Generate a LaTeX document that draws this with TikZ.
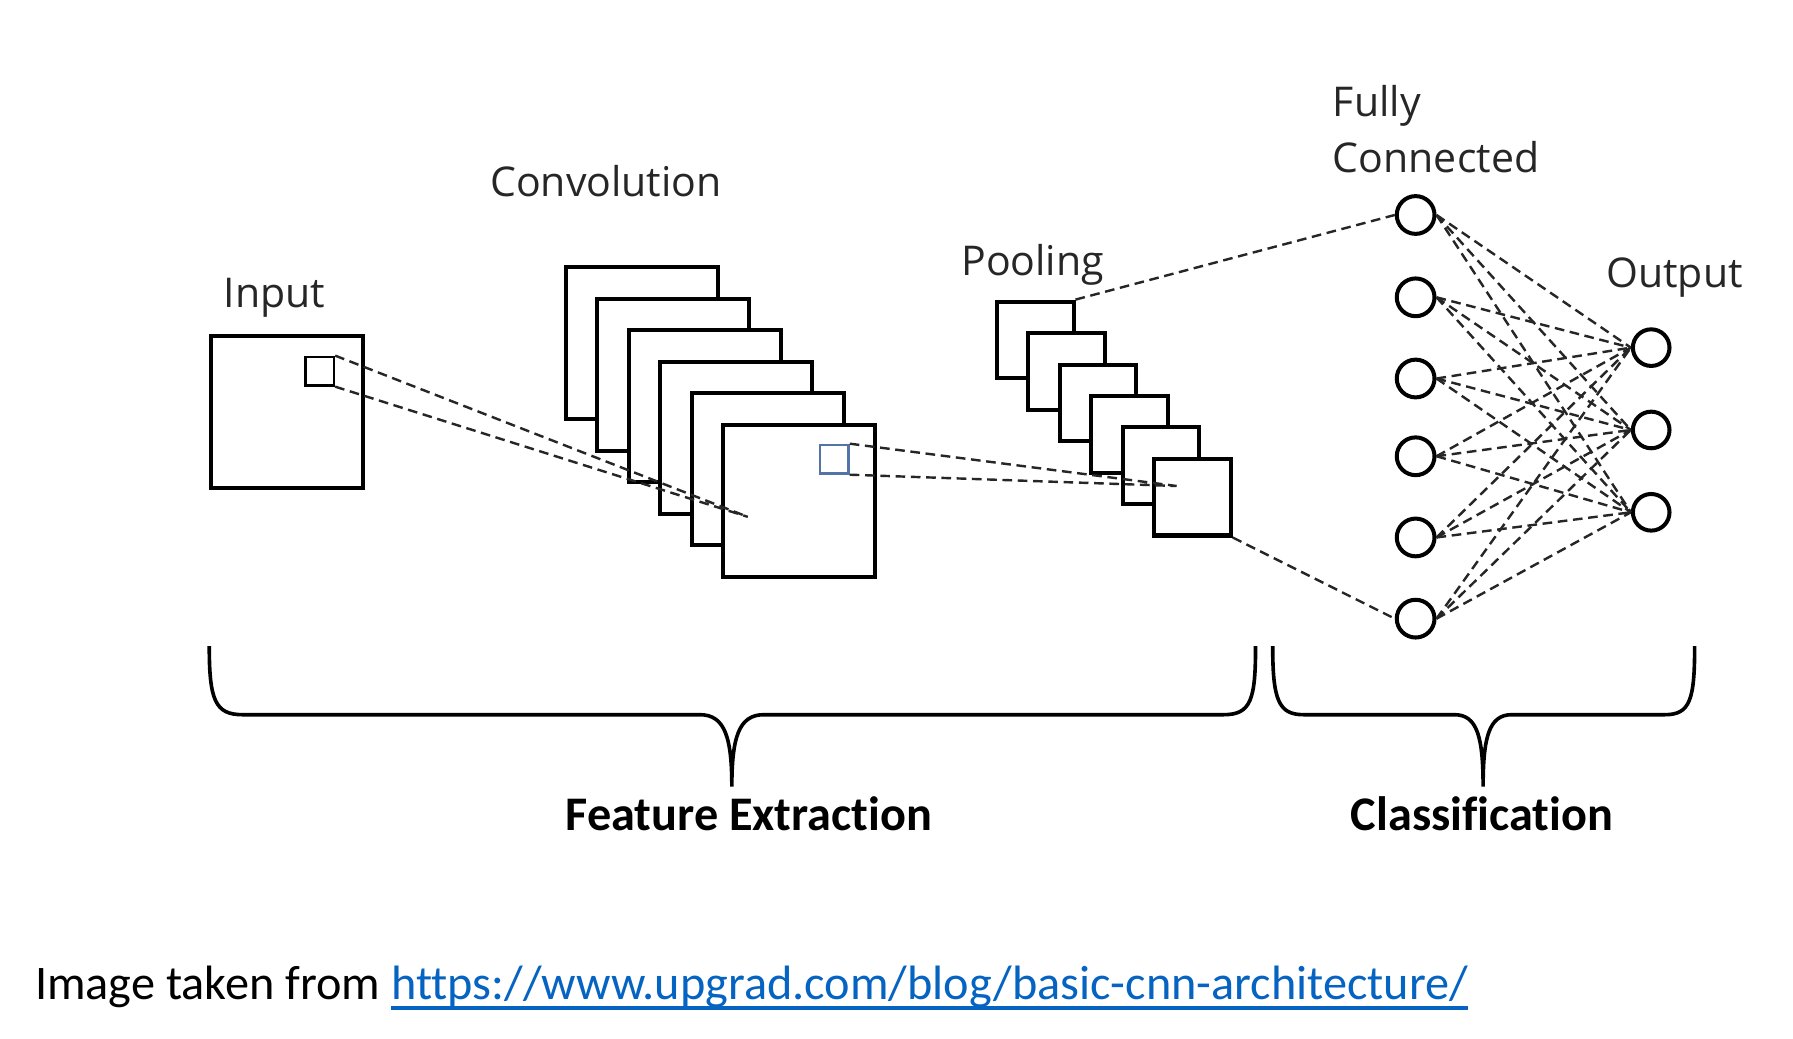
\documentclass[tikz,border=0pt]{standalone}
\usepackage{fontspec}
\setmainfont{Carlito}[Ligatures={NoCommon,NoRequired,NoContextual}]
\newfontfamily\labelfont{Open Sans}
\newcommand{\linkline}[1]{\setbox0\hbox{#1}%
  \makebox[0pt][l]{\rule[-2.6pt]{\wd0}{0.9pt}}\box0}
\definecolor{linkblue}{RGB}{5,99,193}
\definecolor{patchblue}{RGB}{84,115,170}

\begin{document}
\begin{tikzpicture}[x=0.01cm, y=-0.01cm,
      fmap/.style = {draw, fill=white, line width=1pt, anchor=north west,
        inner sep=0, minimum size=1.33cm},
      pmap/.style = {fmap, minimum size=0.67cm},
      patch/.style = {draw, line width=0.6pt, anchor=north west, inner sep=0,
        minimum size=0.25cm},
      neuron/.style = {draw, circle, line width=1pt, inner sep=0,
        minimum size=0.33cm},
      link/.style = {draw=black!85, line width=0.6pt,
        dash pattern=on 2.4pt off 1.4pt},
      brace/.style = {line width=0.9pt},
      lbl/.style = {anchor=west, inner sep=0, text=black!85, align=left,
        font=\labelfont\fontsize{10.2}{14}\selectfont},
      blbl/.style = {inner sep=0, font=\fontsize{12}{14}\selectfont\bfseries}]
  \useasboundingbox (0,0) rectangle (1568,908);
  \node[fmap] (input) at (183,292) {};
  \node[patch] (ipatch) at (266,311) {};
  \foreach \i in {1,...,6}
    \node[fmap] (conv\i) at ({493+27.5*(\i-1)},{232+27.5*(\i-1)}) {};
  \node[patch, draw=patchblue] (cpatch) at (716,388) {};
  \foreach \i in {1,...,6}
    \node[pmap] (pool\i) at ({870+27.5*(\i-1)},{262+27.5*(\i-1)}) {};
  \foreach \i/\y in {1/188,2/260,3/331,4/399,5/470,6/541}
    \node[neuron] (fc\i) at (1238,\y) {};
  \foreach \j/\y in {1/304,2/376,3/448}
    \node[neuron, minimum size=0.32cm] (out\j) at (1444,\y) {};
  \coordinate (convhit) at (654,452);
  \coordinate (poolhit) at (1029,425);
  \draw[link] (ipatch.north east) -- (convhit) (ipatch.south east) -- (convhit);
  \draw[link] (cpatch.north east) -- (poolhit) (cpatch.south east) -- (poolhit);
  \draw[link] (pool1.north east) -- (fc1.west);
  \draw[link] (pool6.south east) -- (fc6.west);
  \foreach \i in {1,...,6}
    \foreach \j in {1,2,3}
      \draw[link] (fc\i.east) -- (out\j.west);
  \node[lbl] (inputlbl) at (195,260) {Input};
  \node[lbl] (convlbl) at (428,158) {Convolution};
  \node[lbl] (poollbl) at (840,232) {Pooling};
  \node[lbl] (fclbl) at (1165,113) {Fully\\Connected};
  \node[lbl] (outlbl) at (1404,243) {Output};
  \draw[brace] (183,565) .. controls (183,612) and (188,625) .. (212,625)
    -- (612,625) .. controls (634,625) and (640,645) .. (640,688)
    .. controls (640,645) and (646,625) .. (668,625)
    -- (1070,625) .. controls (1094,625) and (1098,612) .. (1098,565);
  \draw[brace] (1113,565) .. controls (1113,612) and (1118,625) .. (1140,625)
    -- (1272,625) .. controls (1292,625) and (1297,645) .. (1297,688)
    .. controls (1297,645) and (1302,625) .. (1322,625)
    -- (1456,625) .. controls (1478,625) and (1482,612) .. (1482,565);
  \node[blbl] (featlbl) at (655,712) {Feature Extraction};
  \node[blbl] (classlbl) at (1296,712) {Classification};
  \node[anchor=west, inner sep=0, font=\fontsize{12}{14}\selectfont] (source)
    at (30,864) {Image taken from
    \textcolor{linkblue}{\linkline{https://www.upgrad.com/blog/basic-cnn-architecture/}}};
\end{tikzpicture}
\end{document}
